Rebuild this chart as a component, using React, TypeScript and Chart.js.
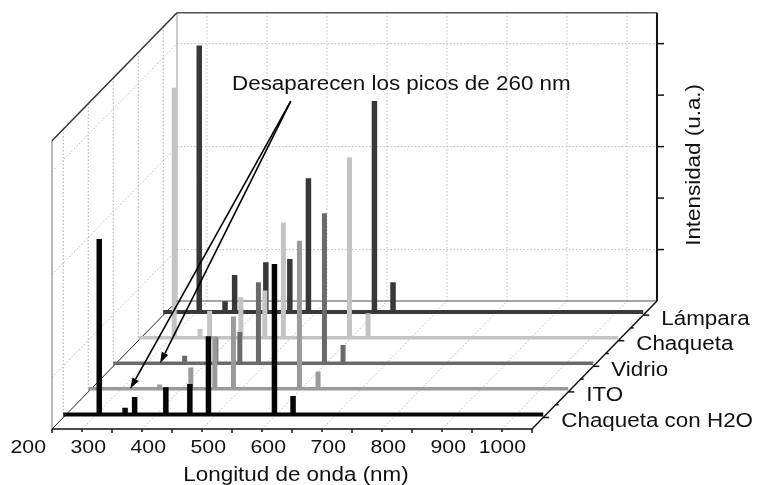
import React, { useEffect, useRef } from "react";
import { Chart, registerables } from "chart.js";

Chart.register(...registerables);

// ---------------- data ----------------
const wavelengthTicks = [200, 300, 400, 500, 600, 700, 800, 900, 1000];
const wavelengthMinorTicks = [250, 350, 450, 550, 650, 750, 850, 950];
const peakWavelengths = [260, 303, 319, 371, 411, 442, 552, 583];

// series, from front (index 0) to back
const seriesNames = ["Chaqueta con H2O", "ITO", "Vidrio", "Chaqueta", "Lámpara"];
const chaquetaH2O = [3.43, 0.15, 0.36, 0.55, 0.61, 1.54, 2.94, 0.38];
const ito = [0, 0, 0.11, 0.44, 1.04, 1.43, 2.9, 0.36];
const vidrio = [0, 0, 0.17, 0.53, 0.63, 1.6, 2.94, 0.38];
const chaqueta = [4.88, 0.2, 0.55, 0.81, 0.94, 2.26, 3.53, 0.5];
const lampara = [5.2, 0.23, 0.74, 0.99, 1.05, 2.62, 4.12, 0.6];
const baselineLevel = 0.06;
const seriesDepth = [0.09, 0.29, 0.49, 0.69, 0.89];
const seriesMinorDepth = [0.19, 0.39, 0.59, 0.79];
const intensityTicks = [1, 2, 3, 4, 5];
const intensityGrid = [1, 3, 5];

const annotationText = "Desaparecen los picos de 260 nm";
const annotationAt = { nm: 500, i: 6.59 };
const arrowFrom = { nm: 598, i: 6.37 };
const arrowTargets = [
  { series: 1, nm: 270 },
  { series: 2, nm: 278 },
];

// ---------------- projection / style ----------------
const X_MIN = 200;
const X_MAX = 1000;
const WALL_TOP = 5.6;
const DEPTH_NM = 208.3;
const DEPTH_I = 2.485;
const PEAK_HALF = 1.25;

const seriesValues = [chaquetaH2O, ito, vidrio, chaqueta, lampara];
const seriesColors = ["#060606", "#9a9a9a", "#6a6a6a", "#c4c4c4", "#383838"];
const seriesWidths = [4, 3.5, 3.5, 3.5, 4];
const FONT = '"Liberation Sans", Arial, Helvetica, sans-serif';
const STRETCH = 1.12;

function buildSpectrum(values: number[], z: number) {
  const pts: { x: number; y: number }[] = [];
  const push = (nm: number, v: number) => pts.push({ x: nm + z * DEPTH_NM, y: v + z * DEPTH_I });
  push(X_MIN, baselineLevel);
  peakWavelengths.forEach((w, k) => {
    const v = values[k];
    if (v > baselineLevel) {
      push(w - PEAK_HALF, baselineLevel);
      push(w - PEAK_HALF, v);
      push(w + PEAK_HALF, v);
      push(w + PEAK_HALF, baselineLevel);
    }
  });
  push(X_MAX, baselineLevel);
  return pts;
}

function proj(chart: any, nm: number, v: number, z: number): [number, number] {
  return [
    chart.scales.x.getPixelForValue(nm + z * DEPTH_NM),
    chart.scales.y.getPixelForValue(v + z * DEPTH_I),
  ];
}

function line(ctx: CanvasRenderingContext2D, a: [number, number], b: [number, number]) {
  ctx.beginPath();
  ctx.moveTo(a[0], a[1]);
  ctx.lineTo(b[0], b[1]);
  ctx.stroke();
}

function text(
  ctx: CanvasRenderingContext2D,
  t: string,
  x: number,
  y: number,
  align: CanvasTextAlign,
  size: number,
  rot = 0
) {
  ctx.save();
  ctx.translate(x, y);
  if (rot) ctx.rotate(rot);
  ctx.scale(STRETCH, 1);
  ctx.font = `${size}px ${FONT}`;
  ctx.fillStyle = "#111";
  ctx.textAlign = align;
  ctx.textBaseline = "alphabetic";
  ctx.fillText(t, 0, 0);
  ctx.restore();
}

const frame3d = {
  id: "frame3d",
  beforeDatasetsDraw(chart: any) {
    const ctx: CanvasRenderingContext2D = chart.ctx;
    const P = (nm: number, v: number, z: number) => proj(chart, nm, v, z);
    ctx.save();
    // dotted grid
    ctx.setLineDash([1.5, 2]);
    ctx.lineWidth = 1;
    ctx.strokeStyle = "#bdbdbd";
    wavelengthMinorTicks.forEach((nm) => {
      line(ctx, P(nm, 0, 1), P(nm, WALL_TOP, 1));
      line(ctx, P(nm, 0, 0), P(nm, 0, 1));
    });
    intensityGrid.forEach((v) => {
      line(ctx, P(X_MIN, v, 1), P(X_MAX, v, 1));
      line(ctx, P(X_MIN, v, 0), P(X_MIN, v, 1));
    });
    ctx.strokeStyle = "#a8a8a8";
    seriesDepth.forEach((z) => line(ctx, P(X_MIN, 0, z), P(X_MIN, WALL_TOP, z)));
    ctx.setLineDash([]);

    // box edges
    ctx.lineWidth = 1;
    ctx.strokeStyle = "#9a9a9a";
    line(ctx, P(X_MIN, 0, 1), P(X_MIN, WALL_TOP, 1));
    ctx.strokeStyle = "#777";
    line(ctx, P(X_MIN, 0, 0), P(X_MIN, WALL_TOP, 0));
    ctx.lineWidth = 1.5;
    ctx.strokeStyle = "#888";
    line(ctx, P(X_MIN, 0, 1), P(X_MAX, 0, 1));
    ctx.strokeStyle = "#555";
    line(ctx, P(X_MIN, WALL_TOP, 1), P(X_MAX, WALL_TOP, 1));
    ctx.strokeStyle = "#333";
    line(ctx, P(X_MIN, WALL_TOP, 0), P(X_MIN, WALL_TOP, 1));
    ctx.lineWidth = 1;
    ctx.strokeStyle = "#222";
    line(ctx, P(X_MIN, 0, 0), P(X_MIN, 0, 1));
    ctx.lineWidth = 1.5;
    ctx.strokeStyle = "#111";
    line(ctx, P(X_MIN, 0, 0), P(X_MAX, 0, 0));
    line(ctx, P(X_MAX, 0, 0), P(X_MAX, 0, 1));
    ctx.lineWidth = 2;
    line(ctx, P(X_MAX, 0, 1), P(X_MAX, WALL_TOP, 1));

    // intensity ticks
    ctx.lineWidth = 1.5;
    intensityTicks.forEach((v) => {
      const p = P(X_MAX, v, 1);
      line(ctx, p, [p[0] + 7, p[1]]);
    });
    // wavelength ticks
    wavelengthTicks.forEach((nm) => {
      const p = P(nm, 0, 0);
      line(ctx, p, [p[0], p[1] + 4]);
    });
    wavelengthMinorTicks.forEach((nm) => {
      const p = P(nm, 0, 0);
      line(ctx, p, [p[0], p[1] + 3]);
    });
    // depth ticks
    seriesDepth.forEach((z) => {
      const p = P(X_MAX, 0, z);
      line(ctx, p, [p[0] + 6, p[1]]);
    });
    seriesMinorDepth.forEach((z) => {
      const p = P(X_MAX, 0, z);
      line(ctx, p, [p[0] + 3, p[1]]);
    });
    ctx.restore();
  },
  afterDatasetsDraw(chart: any) {
    const ctx: CanvasRenderingContext2D = chart.ctx;
    const P = (nm: number, v: number, z: number) => proj(chart, nm, v, z);
    ctx.save();
    // wavelength labels
    wavelengthTicks.forEach((nm) => {
      const p = P(nm, 0, 0);
      text(ctx, String(nm), p[0] - 6, p[1] + 23.5, "right", 19);
    });
    const a = P(X_MIN, 0, 0);
    const b = P(X_MAX, 0, 0);
    text(ctx, "Longitud de onda (nm)", (a[0] + b[0]) / 2 + 4, a[1] + 52, "center", 20);
    // series labels
    seriesNames.forEach((name, i) => {
      const p = P(X_MAX, 0, seriesDepth[i]);
      text(ctx, name, p[0] + 18, p[1] + 9.5, "left", 20);
    });
    // intensity title
    const top = P(X_MAX, WALL_TOP, 1);
    const bot = P(X_MAX, 0, 1);
    text(ctx, "Intensidad (u.a.)", top[0] + 43, (top[1] + bot[1]) / 2 + 8, "center", 20, -Math.PI / 2);
    // annotation
    const t = P(annotationAt.nm, annotationAt.i, 0);
    text(ctx, annotationText, t[0], t[1], "left", 20);
    const s = P(arrowFrom.nm, arrowFrom.i, 0);
    ctx.strokeStyle = "#000";
    ctx.fillStyle = "#000";
    ctx.lineWidth = 1.6;
    arrowTargets.forEach((tg) => {
      const e = P(tg.nm, baselineLevel, seriesDepth[tg.series]);
      const ang = Math.atan2(e[1] - s[1], e[0] - s[0]);
      const L = 11;
      const W = 3.6;
      const bx = e[0] - L * Math.cos(ang);
      const by = e[1] - L * Math.sin(ang);
      line(ctx, s, [bx, by]);
      ctx.beginPath();
      ctx.moveTo(e[0], e[1]);
      ctx.lineTo(bx + W * Math.sin(ang), by - W * Math.cos(ang));
      ctx.lineTo(bx - W * Math.sin(ang), by + W * Math.cos(ang));
      ctx.closePath();
      ctx.fill();
    });
    ctx.restore();
  },
};

export default function App() {
  const ref = useRef<HTMLCanvasElement | null>(null);
  useEffect(() => {
    if (!ref.current) return;
    const datasets = seriesValues.map((vals, i) => ({
      label: seriesNames[i],
      data: buildSpectrum(vals, seriesDepth[i]),
      borderColor: seriesColors[i],
      backgroundColor: seriesColors[i],
      borderWidth: seriesWidths[i],
      pointRadius: 0,
      tension: 0,
      fill: false,
      clip: false as any,
      borderJoinStyle: "miter" as const,
    }));
    const chart = new Chart(ref.current, {
      type: "line",
      data: { datasets },
      options: {
        responsive: false,
        animation: false,
        devicePixelRatio: 1,
        layout: { padding: { left: 52, right: 225, top: 13, bottom: 56 } },
        scales: {
          x: { type: "linear", min: X_MIN, max: X_MAX, display: false },
          y: { type: "linear", min: 0, max: 8.08, display: false },
        },
        plugins: { legend: { display: false }, tooltip: { enabled: false } },
        events: [],
      },
      plugins: [frame3d],
    });
    return () => chart.destroy();
  }, []);
  return (
    <div style={{ position: "absolute", left: 0, top: 0, width: 757, height: 485, background: "#fff" }}>
      <canvas ref={ref} width={757} height={485} style={{ display: "block", width: 757, height: 485 }} />
    </div>
  );
}
